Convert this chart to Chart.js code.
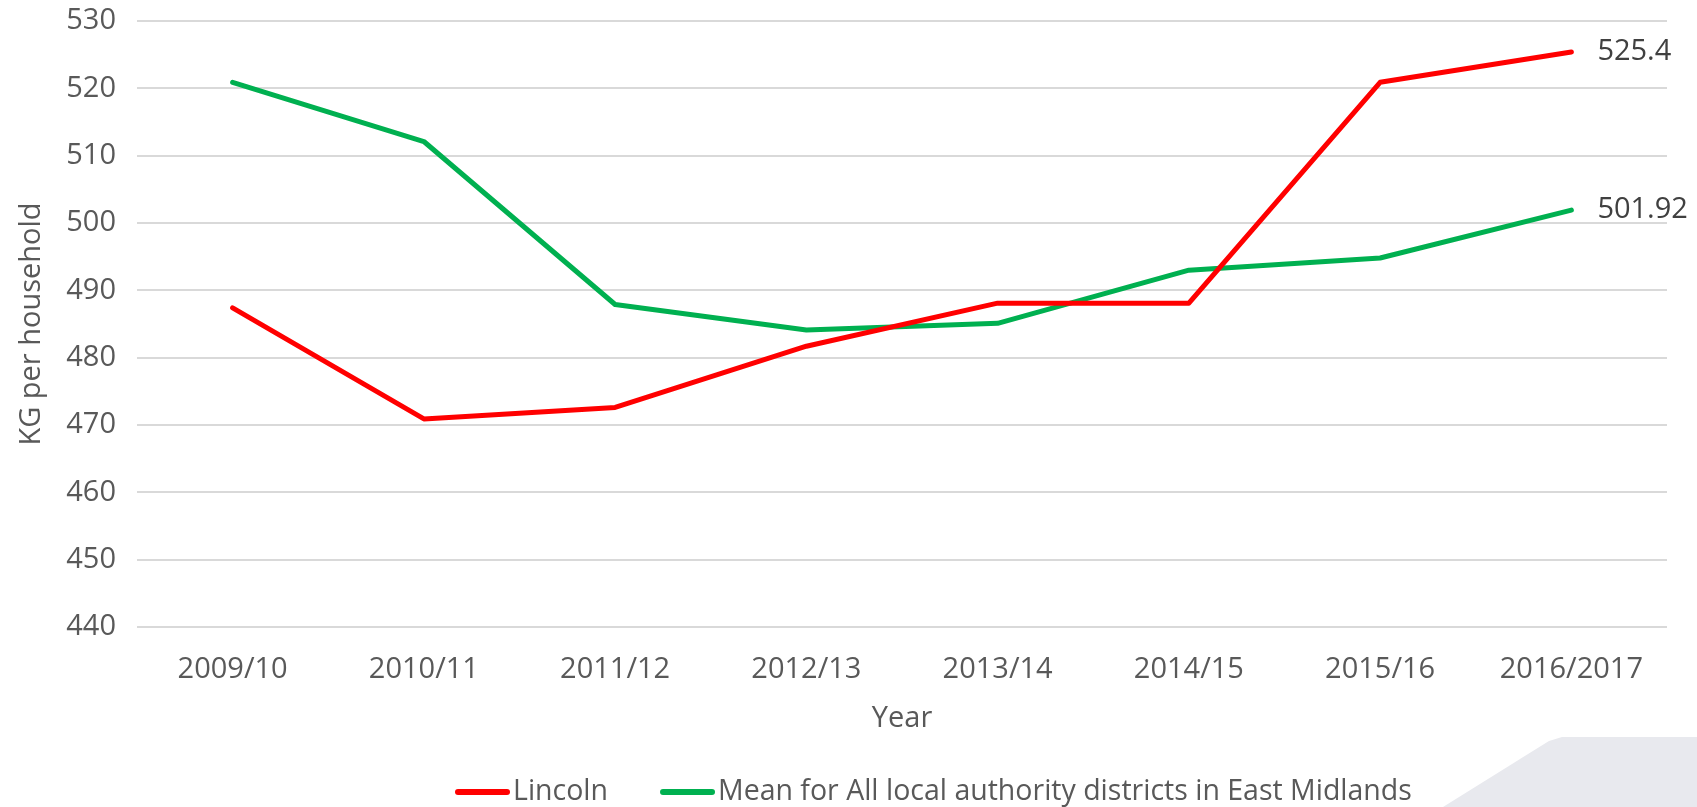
<!DOCTYPE html>
<html>
<head>
<meta charset="utf-8">
<script src="https://cdn.jsdelivr.net/npm/chart.js@4"></script>
<style>
  body { margin: 0; background: #fff; }
  #wrap { position: relative; width: 1697px; height: 807px; overflow: hidden; }
  #corner {
    position: absolute; left: 0; top: 0; width: 1697px; height: 807px;
    background: #e8e9ee;
    clip-path: polygon(1443px 807px, 1549px 741px, 1562px 737px, 1697px 737px, 1697px 807px);
  }
  canvas { position: absolute; left: 0; top: 0; }
</style>
</head>
<body>
<div id="wrap">
  <div id="corner"></div>
  <canvas id="chart" width="1697" height="807"></canvas>
</div>
<script>
const years = ["2009/10", "2010/11", "2011/12", "2012/13", "2013/14", "2014/15", "2015/16", "2016/2017"];
const lincoln = [487.4, 470.9, 472.6, 481.7, 488.1, 488.1, 520.9, 525.4];
const eastMidlands = [520.9, 512.1, 487.9, 484.1, 485.1, 493.0, 494.8, 501.92];
const seriesNames = ["Lincoln", "Mean for All local authority districts in East Midlands"];
const seriesColors = ["#ff0000", "#00b050"];
const endLabels = ["525.4", "501.92"];

const FONT = "'Open Sans', sans-serif";
const grey = "#595959";

// last value labels next to the line ends
const endLabelPlugin = {
  id: "endLabels",
  afterDatasetsDraw(chart) {
    const ctx = chart.ctx;
    ctx.save();
    ctx.font = "29px " + FONT;
    ctx.fillStyle = "#404040";
    ctx.textBaseline = "middle";
    ctx.textAlign = "left";
    chart.data.datasets.forEach((ds, i) => {
      const pts = chart.getDatasetMeta(i).data;
      const p = pts[pts.length - 1];
      ctx.fillText(endLabels[i], p.x + 26, p.y);
    });
    ctx.restore();
  }
};

// legend drawn by hand to get the tight line/text spacing
const legendPlugin = {
  id: "lineLegend",
  afterDraw(chart) {
    const ctx = chart.ctx;
    ctx.save();
    ctx.font = "28.5px " + FONT;
    ctx.textBaseline = "middle";
    let x = 455;
    const y = 792;
    seriesNames.forEach((name, i) => {
      ctx.strokeStyle = seriesColors[i];
      ctx.lineWidth = 6;
      ctx.lineCap = "round";
      ctx.beginPath();
      ctx.moveTo(x + 3, y);
      ctx.lineTo(x + 52, y);
      ctx.stroke();
      ctx.fillStyle = grey;
      ctx.fillText(name, x + 58, y);
      x += 58 + ctx.measureText(name).width + 52;
    });
    ctx.restore();
  }
};

new Chart(document.getElementById("chart"), {
  type: "line",
  data: {
    labels: years,
    datasets: [
      { label: seriesNames[0], data: lincoln, borderColor: seriesColors[0] },
      { label: seriesNames[1], data: eastMidlands, borderColor: seriesColors[1] }
    ]
  },
  options: {
    responsive: false,
    animation: false,
    layout: { padding: { top: 21, right: 30, bottom: 71, left: 0 } },
    elements: {
      point: { radius: 0 },
      line: { borderWidth: 5, tension: 0, borderCapStyle: "round", borderJoinStyle: "round" }
    },
    plugins: {
      legend: { display: false },
      tooltip: { enabled: false }
    },
    scales: {
      x: {
        offset: true,
        grid: { display: false },
        border: { display: false },
        ticks: { color: grey, font: { family: FONT, size: 29 }, padding: 17, maxRotation: 0 },
        title: { display: true, text: "Year", color: grey, font: { family: FONT, size: 29 }, padding: { top: 0, bottom: 0 } },
        afterFit(scale) {
          scale.height = 109;
          scale.paddingLeft = 0;
          scale.paddingRight = 0;
        }
      },
      y: {
        min: 440,
        max: 530,
        grid: { color: "#d9d9d9", lineWidth: 2, drawTicks: false },
        border: { display: false },
        ticks: { stepSize: 10, color: grey, font: { family: FONT, size: 29 }, padding: 21 },
        title: { display: true, text: "KG per household", color: grey, font: { family: FONT, size: 29 }, padding: { top: 14, bottom: 20 } },
        afterFit(scale) {
          scale.width = 137;
          scale.paddingTop = 0;
          scale.paddingBottom = 0;
        }
      }
    }
  },
  plugins: [endLabelPlugin, legendPlugin]
});
</script>
</body>
</html>
